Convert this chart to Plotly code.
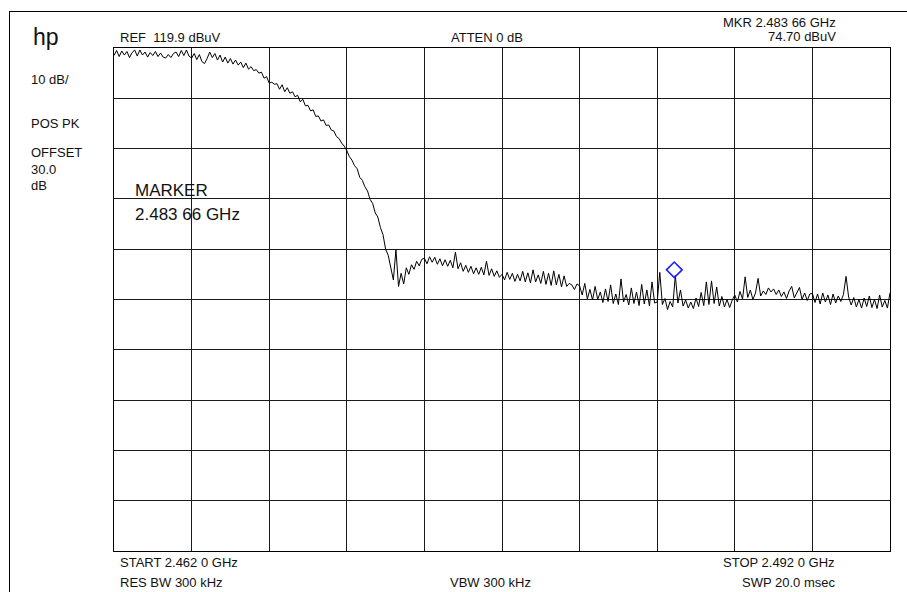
import plotly.graph_objects as go

# ---- data ----
start_ghz = 2.4620
stop_ghz = 2.4920
ref_level_dbuv = 119.9
db_per_div = 10
marker_freq_ghz = 2.48366
marker_level_dbuv = 74.70

# trace levels (dBuV), 301 points evenly spaced from START to STOP
trace_dbuv = [
    # 2.462 - 2.465
    118.4, 119.4, 118.2, 119.3, 118.5, 119.2, 118.0, 119.0, 119.5, 118.3,
    119.5, 118.5, 119.1, 118.1, 119.0, 118.4, 119.2, 118.2, 118.9, 118.1,
    117.9, 118.6, 118.0, 118.8, 119.1, 118.2, 119.4, 118.4, 119.5, 118.3,
    # 2.465 - 2.468
    117.9, 118.8, 117.6, 118.6, 117.2, 116.8, 117.8, 119.1, 118.0, 118.8,
    117.5, 118.5, 117.1, 118.1, 116.9, 117.8, 116.7, 117.5, 116.5, 117.1,
    116.0, 116.9, 115.7, 116.2, 115.4, 115.6, 114.9, 115.1, 113.9, 114.2,
    # 2.468 - 2.471
    112.9, 113.1, 112.7, 112.8, 111.7, 112.6, 111.2, 112.0, 110.9, 111.2,
    110.2, 110.5, 109.2, 109.7, 108.4, 108.5, 107.4, 107.6, 106.3, 106.4,
    105.4, 105.6, 104.5, 104.6, 103.6, 103.4, 102.3, 101.9, 101.0, 100.4,
    # 2.471 - 2.474
    99.5, 98.3, 97.6, 96.5, 95.9, 94.2, 93.6, 92.3, 91.5, 89.8,
    89.0, 87.1, 86.3, 84.2, 82.8, 79.9, 78.7, 76.2, 73.8, 79.8,
    72.5, 75.1, 73.0, 76.2, 74.9, 76.8, 75.9, 77.5, 76.6, 77.9,
    # 2.474 - 2.477
    78.1, 77.0, 78.4, 77.3, 78.3, 76.9, 78.0, 76.6, 77.8, 76.5,
    77.7, 76.2, 79.3, 76.0, 77.2, 75.5, 76.7, 75.3, 76.5, 75.0,
    76.2, 74.9, 76.3, 74.8, 77.5, 74.7, 76.0, 74.5, 75.6, 74.3,
    # 2.477 - 2.480
    74.9, 73.8, 75.3, 73.9, 75.1, 73.5, 74.9, 73.6, 75.5, 73.4,
    75.2, 73.2, 75.8, 73.4, 74.8, 73.1, 75.5, 72.9, 75.1, 72.7,
    75.6, 72.8, 74.9, 72.4, 74.6, 72.5, 73.1, 72.8, 71.9, 73.0,
    # 2.480 - 2.483
    72.6, 70.8, 73.1, 70.0, 71.9, 69.8, 72.5, 69.9, 71.4, 69.3,
    72.0, 69.5, 72.8, 69.1, 71.0, 68.9, 74.0, 69.4, 70.9, 68.8,
    72.2, 69.1, 71.4, 68.7, 72.9, 69.0, 71.8, 68.6, 73.4, 69.2,
    # 2.483 - 2.486
    69.4, 75.3, 68.9, 70.1, 67.9, 69.5, 68.4, 74.7, 69.2, 71.8,
    68.6, 69.8, 68.2, 69.4, 68.1, 70.2, 68.5, 71.3, 68.7, 73.4,
    68.9, 73.6, 69.1, 72.4, 68.6, 70.5, 68.4, 69.9, 68.3, 69.8,
    # 2.486 - 2.489
    70.8, 69.4, 71.5, 70.0, 74.4, 70.3, 71.8, 69.9, 71.2, 74.1,
    70.6, 71.6, 70.9, 72.2, 71.4, 72.0, 70.9, 71.8, 70.5, 71.4,
    70.1, 71.6, 72.5, 70.2, 71.3, 72.3, 69.9, 71.2, 69.7, 71.0,
    # 2.489 - 2.492
    71.1, 69.3, 71.0, 69.0, 71.2, 69.4, 70.8, 68.9, 71.0, 69.2,
    70.6, 69.5, 70.9, 74.5, 70.4, 68.8, 70.3, 68.4, 69.9, 68.2,
    70.2, 68.5, 70.6, 68.3, 69.9, 68.1, 70.8, 68.4, 69.7, 68.2,
    71.2,
]

n = len(trace_dbuv)
freqs_ghz = [start_ghz + (stop_ghz - start_ghz) * i / (n - 1) for i in range(n)]
bottom_level = ref_level_dbuv - 10 * db_per_div

# ---- layout geometry ----
W, H = 907, 592
ML, MR, MT, MB = 114, 17, 48, 41
PW, PH = W - ML - MR, H - MT - MB


def px(x):
    return (x - ML) / PW


def py(y):
    return 1 - (y - MT) / PH


FONT = "Liberation Sans, Arial, Helvetica, sans-serif"

fig = go.Figure()
fig.add_trace(go.Scatter(
    x=freqs_ghz, y=trace_dbuv, mode="lines",
    line=dict(color="#000000", width=1),
    hoverinfo="skip", showlegend=False,
))
fig.add_trace(go.Scatter(
    x=[marker_freq_ghz], y=[marker_level_dbuv + 1.1], mode="markers",
    marker=dict(symbol="diamond-open", size=12, color="#1f1fff",
                line=dict(color="#1f1fff", width=1.6)),
    hoverinfo="skip", showlegend=False,
))

annots = []


def txt(s, x, y, size=13, xanchor="left"):
    annots.append(dict(
        text=s, x=px(x), y=py(y), xref="paper", yref="paper",
        xanchor=xanchor, yanchor="middle", showarrow=False,
        font=dict(family=FONT, size=size, color="#111111"),
    ))


txt("hp", 31, 37, size=23)
txt("REF  119.9 dBuV", 118, 37.5)
txt("ATTEN 0 dB", 449, 37.5)
txt("MKR 2.483 66 GHz", 838, 22.5, xanchor="right")
txt("74.70 dBuV", 838, 36.5, xanchor="right")
txt("10 dB/", 29, 79)
txt("POS PK", 29, 124)
txt("OFFSET", 29, 152.5)
txt("30.0", 29, 169.5)
txt("dB", 29, 186)
txt("MARKER", 133, 190, size=17)
txt("2.483 66 GHz", 133, 214, size=17)
txt("START 2.462 0 GHz", 118, 562)
txt("RES BW 300 kHz", 118, 582)
txt("VBW 300 kHz", 448, 582)
txt("STOP 2.492 0 GHz", 837, 562, xanchor="right")
txt("SWP 20.0 msec", 837, 582, xanchor="right")

shapes = [
    dict(type="line", xref="paper", yref="paper",
         x0=px(9.5), x1=px(9.5), y0=py(11), y1=py(600),
         line=dict(color="#000000", width=1)),
    dict(type="line", xref="paper", yref="paper",
         x0=px(9), x1=px(910), y0=py(11.5), y1=py(11.5),
         line=dict(color="#000000", width=1)),
]

fig.update_layout(
    width=W, height=H,
    margin=dict(l=ML, r=MR, t=MT, b=MB, pad=0),
    paper_bgcolor="#ffffff", plot_bgcolor="#ffffff",
    annotations=annots, shapes=shapes, showlegend=False,
    xaxis=dict(range=[start_ghz, stop_ghz], tick0=start_ghz, dtick=(stop_ghz - start_ghz) / 10,
               showgrid=True, gridcolor="#1a1a1a", gridwidth=1,
               showline=True, linecolor="#000000", linewidth=1, mirror=True,
               showticklabels=False, ticks="", zeroline=False, fixedrange=True),
    yaxis=dict(range=[bottom_level, ref_level_dbuv], tick0=bottom_level, dtick=db_per_div,
               showgrid=True, gridcolor="#1a1a1a", gridwidth=1,
               showline=True, linecolor="#000000", linewidth=1, mirror=True,
               showticklabels=False, ticks="", zeroline=False, fixedrange=True),
)

fig.write_html(
    "out.html",
    config={"displayModeBar": False, "staticPlot": True},
    post_script="document.body.style.margin='0';document.body.style.padding='0';",
)
